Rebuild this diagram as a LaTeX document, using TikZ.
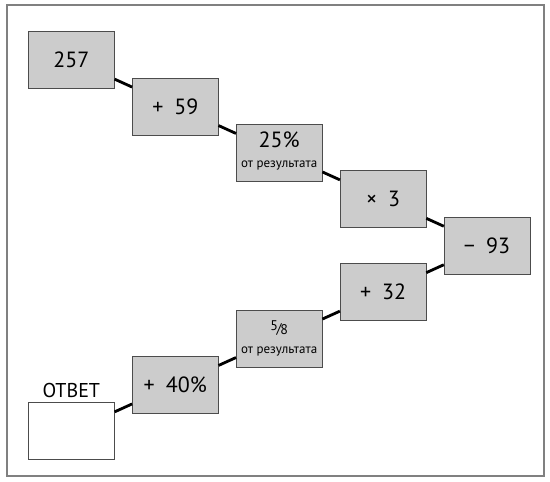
\documentclass[tikz,border=0pt]{standalone}
\usepackage{fontspec}
\setmainfont{PT Sans}
\usetikzlibrary{positioning, matrix}

\tikzset{
  stepbox/.style={draw=black!70, fill=black!20, minimum width=86pt, minimum height=57pt,
    inner sep=1pt, font=\fontsize{22}{24}\selectfont},
  link/.style={line width=2.8pt},
}
\newcommand{\ofresult}{{\fontsize{13}{14}\selectfont от результата}}
\newcommand{\twoline}[1]{\begin{tabular}{@{}c@{}}#1\\[-4pt]\ofresult\end{tabular}}
\newcommand{\fivee}{{\fontsize{14}{14}\selectfont\raisebox{0.4ex}{5}\kern-0.1em/\kern-0.1em\raisebox{-0.2ex}{8}}}

\begin{document}
\begin{tikzpicture}
\useasboundingbox (0pt,0pt) rectangle (550pt,-482pt);
\draw[black!50, line width=2pt] (7pt,-5pt) rectangle (544pt,-476pt);

\matrix (m) [
    matrix of nodes,
    nodes={stepbox},
    row sep=-11pt,
    column sep=17.5pt,
    inner sep=0pt,
    anchor=north west,
    ampersand replacement=\&
  ] at (28pt,-31pt) {
    257 \& \& \& \& \\
    \& +\enspace 59 \& \& \& \\
    \& \& \twoline{25\%} \& \& \\
    \& \& \& ×\enspace 3 \& \\
    \& \& \& \& −\enspace 93 \\
    \& \& \& +\enspace 32 \& \\
    \& \& \twoline{\fivee} \& \& \\
    \& +\enspace 40\% \& \& \& \\
    |[fill=white]| {} \& \& \& \& \\
  };
  \node[above=3pt of m-9-1, inner sep=1pt, font=\fontsize{20}{22}\selectfont] (answer) {ОТВЕТ};

  % Linien nach unten
  \draw[link] (m-1-1.-24) -- (m-2-2.156);
  \draw[link] (m-2-2.-24) -- (m-3-3.156);
  \draw[link] (m-3-3.-24) -- (m-4-4.156);
  \draw[link] (m-4-4.-24) -- (m-5-5.156);

  % Linien nach oben
  \draw[link] (m-5-5.204) -- (m-6-4.24);
  \draw[link] (m-6-4.204) -- (m-7-3.24);
  \draw[link] (m-7-3.204) -- (m-8-2.24);
  \draw[link] (m-8-2.204) -- (m-9-1.24);
\end{tikzpicture}
\end{document}
